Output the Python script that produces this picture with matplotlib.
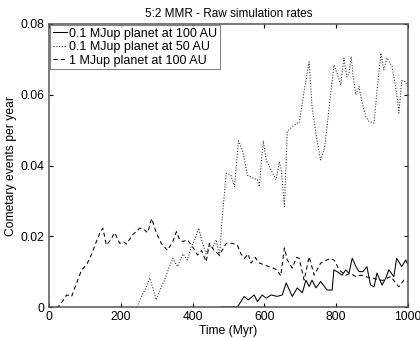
import matplotlib
matplotlib.use("Agg")
import matplotlib.pyplot as plt

# ------------------------------------------------------------
# Data
# ------------------------------------------------------------

t_p01_100 = [480, 503, 525, 544, 555, 572, 581, 594, 605, 619, 636, 650, 661, 678,
             692, 706, 716, 725, 733, 744, 757, 775, 789, 794, 806, 817, 827, 836,
             845, 855, 864, 875, 886, 896, 906, 914, 928, 938, 947, 961, 969, 983,
             994, 1000]
r_p01_100 = [0.0, 0.0, 0.0, 0.003, 0.002, 0.0034, 0.0015, 0.0034, 0.0025, 0.0034,
             0.003, 0.0034, 0.0068, 0.003, 0.0054, 0.004, 0.0076, 0.0058, 0.0076,
             0.0054, 0.0072, 0.0048, 0.0048, 0.0105, 0.0098, 0.009, 0.0105, 0.0095,
             0.0138, 0.0115, 0.010, 0.010, 0.0114, 0.0062, 0.0057, 0.0096, 0.0062,
             0.008, 0.0105, 0.0086, 0.0138, 0.0114, 0.0133, 0.012]

t_p01_50 = [245, 253, 268, 281, 299, 310, 322, 334, 345, 358, 373, 386, 396, 406,
            417, 428, 438, 447, 456, 466, 475, 483, 494, 507, 517, 528, 539, 553,
            567, 581, 586, 597, 605, 619, 633, 642, 647, 656, 664, 678, 692, 697,
            711, 725, 733, 747, 757, 768, 781, 794, 803, 813, 822, 830, 836, 842,
            848, 855, 864, 872, 883, 892, 906, 914, 925, 933, 942, 956, 969, 975,
            983, 994, 1000]
r_p01_50 = [0.0, 0.002, 0.005, 0.0082, 0.002, 0.005, 0.0076, 0.011, 0.0138, 0.0114,
            0.015, 0.0133, 0.017, 0.019, 0.0223, 0.018, 0.015, 0.0175, 0.0167, 0.019,
            0.0142, 0.0255, 0.0378, 0.0373, 0.034, 0.047, 0.0444, 0.0373, 0.0365,
            0.036, 0.034, 0.047, 0.0416, 0.0387, 0.036, 0.041, 0.039, 0.0284, 0.0496,
            0.051, 0.052, 0.052, 0.061, 0.0693, 0.0566, 0.047, 0.0416, 0.045, 0.0566,
            0.0684, 0.066, 0.0628, 0.0704, 0.065, 0.066, 0.0708, 0.065, 0.060, 0.0623,
            0.058, 0.0538, 0.0524, 0.052, 0.0609, 0.0718, 0.067, 0.0704, 0.068,
            0.0605, 0.0548, 0.064, 0.0637, 0.062]

t_p1_100 = [20, 25, 40, 49, 63, 80, 91, 105, 119, 130, 142, 150, 160, 172, 183, 197,
            207, 216, 233, 253, 264, 275, 286, 299, 313, 330, 345, 355, 364, 373,
            386, 400, 414, 425, 438, 447, 460, 475, 494, 511, 525, 535, 545, 555,
            563, 575, 585, 600, 614, 625, 635, 646, 656, 664, 678, 690, 697, 711,
            725, 739, 757, 785, 797, 808, 827, 840, 855, 870, 885, 900, 915, 930,
            952, 965, 975, 989, 1000]
r_p1_100 = [0.0, 0.0, 0.002, 0.0034, 0.003, 0.0076, 0.0105, 0.012, 0.015, 0.018,
            0.021, 0.0223, 0.0175, 0.019, 0.021, 0.018, 0.0185, 0.0178, 0.0204,
            0.0223, 0.022, 0.021, 0.025, 0.021, 0.018, 0.016, 0.0185, 0.0213, 0.019,
            0.0185, 0.019, 0.017, 0.0147, 0.016, 0.0128, 0.018, 0.016, 0.0147, 0.018,
            0.018, 0.0175, 0.015, 0.0138, 0.015, 0.0124, 0.014, 0.0125, 0.0119,
            0.0114, 0.011, 0.0105, 0.0088, 0.0167, 0.0133, 0.011, 0.014, 0.0138,
            0.0076, 0.0142, 0.009, 0.0124, 0.0138, 0.013, 0.0105, 0.009, 0.0095,
            0.0086, 0.009, 0.0085, 0.0082, 0.0078, 0.0075, 0.0086, 0.007, 0.0057,
            0.0076, 0.007]

labels = ["0.1 MJup planet at 100 AU", "0.1 MJup planet at 50 AU",
          "1 MJup planet at 100 AU"]
x_ticks = [0, 200, 400, 600, 800, 1000]
y_ticks = [0, 0.02, 0.04, 0.06, 0.08]
y_tick_labels = ["0", "0.02", "0.04", "0.06", "0.08"]

# ------------------------------------------------------------
# Plot
# ------------------------------------------------------------

plt.rcParams["font.family"] = ["Liberation Sans", "DejaVu Sans"]
plt.rcParams["font.size"] = 8.5

fig = plt.figure(figsize=(4.2, 3.38), dpi=100)
ax = fig.add_axes([0.1167, 0.0917, 0.8543, 0.8373])

ax.plot(t_p01_100, r_p01_100, "-", color="black", lw=0.75, label=labels[0])
ax.plot(t_p01_50, r_p01_50, ":", color="#222222", lw=0.75, label=labels[1])
ax.plot(t_p1_100, r_p1_100, "--", color="black", lw=0.75, dashes=(4, 3),
        label=labels[2])

ax.set_xlim(0, 1000)
ax.set_ylim(0, 0.08)
ax.set_xticks(x_ticks)
ax.set_yticks(y_ticks)
ax.set_yticklabels(y_tick_labels)
ax.tick_params(direction="in", top=True, right=True, length=3, width=0.8,
               labelsize=8.7, pad=3)
for s in ax.spines.values():
    s.set_linewidth(1.1)
    s.set_color("#555555")

ax.set_title("5:2 MMR - Raw simulation rates", fontsize=8.5, pad=5)
ax.set_xlabel("Time (Myr)", fontsize=8.7, labelpad=1)
ax.set_ylabel("Cometary events per year", fontsize=8.7, labelpad=3)

leg = ax.legend(loc="upper left", fontsize=9.0, frameon=True, fancybox=False,
                borderaxespad=0.1, handlelength=1.1, handletextpad=0.2,
                labelspacing=0.12, borderpad=0.2)
leg.get_frame().set_edgecolor("#666666")
leg.get_frame().set_linewidth(0.8)

fig.savefig("out.png", dpi=100)
